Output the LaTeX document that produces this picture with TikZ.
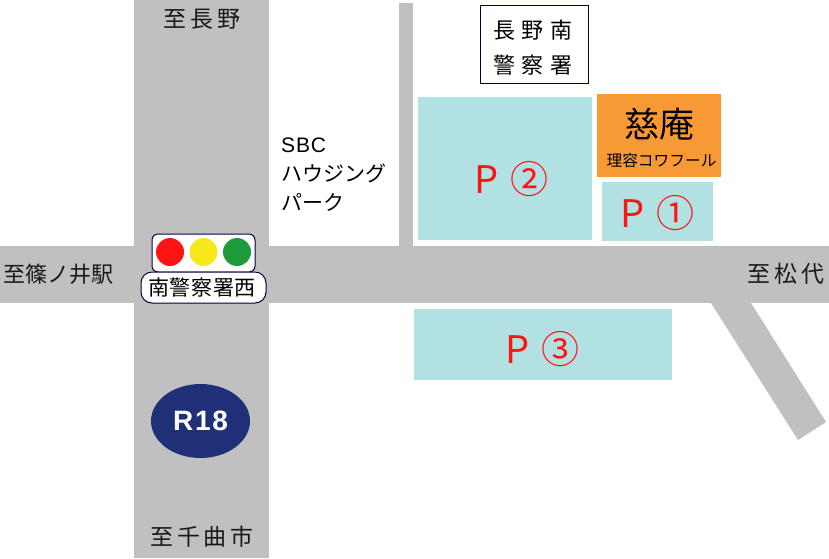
\documentclass[tikz,border=0pt]{standalone}
\usepackage{fontspec}
\usetikzlibrary{shapes.geometric}
\setmainfont{Noto Sans CJK JP}
\newfontfamily\spjp[LetterSpace=16]{Noto Sans CJK JP}
\newfontfamily\spjpn[LetterSpace=3]{Noto Sans CJK JP}
\newfontfamily\spjpw[LetterSpace=30]{Noto Sans CJK JP}
\newfontfamily\latin[LetterSpace=4]{Liberation Sans}
\newfontfamily\latinb[LetterSpace=6]{Liberation Sans}
\definecolor{road}{HTML}{C0C0C0}
\definecolor{park}{HTML}{B2E1E3}
\definecolor{shop}{HTML}{F79A35}
\definecolor{navy}{HTML}{1F2F78}
\definecolor{lred}{HTML}{FF1414}
\definecolor{lyellow}{HTML}{F7E81C}
\definecolor{lgreen}{HTML}{1E9A3A}
\newcommand{\parkmark}[1]{P\hspace{12.5pt}#1}
\tikzset{
  x=1pt,y=-1pt,
  roadshape/.style={fill=road,draw=none},
  parkshape/.style={fill=park,draw=none},
  lamp/.style={circle,draw=none,minimum size=28pt,inner sep=0pt},
  place/.style={inner sep=0pt,font={\fontsize{23}{24}\selectfont\spjp},text=black!90},
  parklabel/.style={inner sep=0pt,text=lred,font={\fontsize{38}{40}\selectfont}},
  plainlabel/.style={inner sep=0pt,anchor=west,align=left,font={\fontsize{21}{29}\selectfont}},
}
\begin{document}
\begin{tikzpicture}
\useasboundingbox (0,0) rectangle (829,558);
\fill[white] (0,0) rectangle (829,558);
% roads
\fill[roadshape] (134,0) rectangle (269,558);
\fill[roadshape] (0,246) rectangle (829,303);
\fill[roadshape] (399,3) rectangle (413,246);
\fill[roadshape] (711,303) -- (751,303) -- (826,422) -- (798,440) -- cycle;
% areas
\fill[parkshape] (418,97) rectangle (592,240);
\fill[parkshape] (602,182) rectangle (713,241);
\fill[parkshape] (414,309) rectangle (672,380);
\fill[shop] (597,94) rectangle (721,177);
\draw[draw=black!80!blue,line width=1pt] (480.5,5.5) rectangle (588,83);
% labels
\node[place] (nagano) at (202,19) {至長野};
\node[place] (chikuma) at (202,537) {至千曲市};
\node[place,font={\fontsize{22}{24}\selectfont}] (shinonoi) at (58,274) {至篠ノ井駅};
\node[place] (matsushiro) at (786,274) {至松代};
\node[inner sep=0pt,align=center,font={\fontsize{22}{35}\selectfont\spjpw}] (police) at (533,47.5) {長野南\\警察署};
\node[inner sep=0pt,font={\fontsize{35}{38}\selectfont}] (jian) at (659,124) {慈庵};
\node[inner sep=0pt,font={\fontsize{15.7}{18}\selectfont}] (riyou) at (661.5,161) {理容コワフール};
\node[plainlabel] (sbc) at (281,175) {{\latin SBC}\\ハウジング\\パーク};
\node[parklabel] (p2) at (511.7,179) {\parkmark{②}};
\node[parklabel] (p1) at (657.7,213) {\parkmark{①}};
\node[parklabel] (p3) at (542.7,349) {\parkmark{③}};
% signal
\draw[fill=white,draw=black!70!blue,line width=1pt,rounded corners=6pt] (152,234) rectangle (255,272);
\node[lamp,fill=lred] (red) at (170,252) {};
\node[lamp,fill=lyellow] (yellow) at (203.5,252) {};
\node[lamp,fill=lgreen] (green) at (237,252) {};
\node[draw=black!80!blue,fill=white,line width=1pt,rounded corners=11pt,minimum width=125pt,minimum height=31pt,inner sep=0pt,font={\fontsize{21}{22}\selectfont\spjpn}] (junction) at (203.5,287.5) {\hspace{-3pt}南警察署西};
% route
\node[ellipse,fill=navy,minimum width=99pt,minimum height=74pt,inner sep=0pt,text=white,font={\latinb\bfseries\fontsize{28}{30}\selectfont}] (r18) at (200.5,421) {R18};
\end{tikzpicture}
\end{document}
